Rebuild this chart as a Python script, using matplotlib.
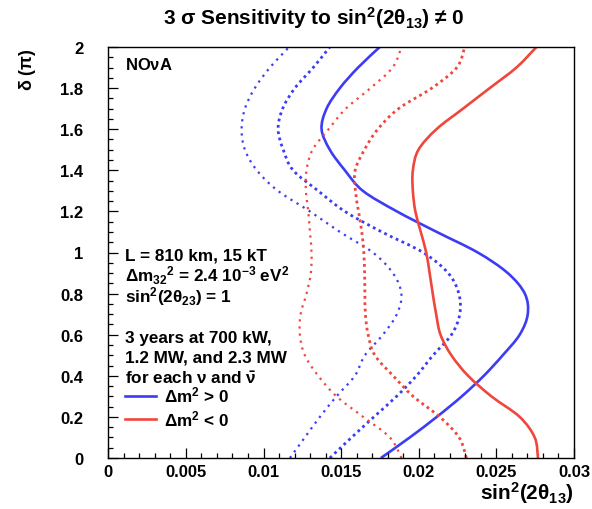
import matplotlib
matplotlib.use("Agg")
import matplotlib.pyplot as plt
import numpy as np
from matplotlib.ticker import MultipleLocator
from matplotlib.lines import Line2D
from matplotlib.path import Path
from matplotlib.patches import PathPatch

# ---- data ----
delta = [0.0, 0.1, 0.2, 0.3, 0.4, 0.5, 0.6, 0.7, 0.8, 0.9, 1.0,
         1.1, 1.2, 1.3, 1.4, 1.5, 1.6, 1.7, 1.8, 1.9, 2.0]

# normal hierarchy (dm2 > 0)
nh_700kw = [0.01756, 0.01942, 0.02116, 0.02277, 0.02419, 0.02541, 0.02650,
            0.02702, 0.02683, 0.02573, 0.02380, 0.02116, 0.01859, 0.01640,
            0.01524, 0.01427, 0.01374, 0.01406, 0.01492, 0.01609, 0.01749]
nh_1p2mw = [0.01427, 0.01567, 0.01711, 0.01857, 0.01985, 0.02092, 0.02211,
            0.02264, 0.02258, 0.02189, 0.02028, 0.01762, 0.01524, 0.01352,
            0.01191, 0.01127, 0.01094, 0.01123, 0.01202, 0.01320, 0.01427]
nh_2p3mw = [0.01170, 0.01266, 0.01363, 0.01470, 0.01588, 0.01653, 0.01769,
            0.01859, 0.01888, 0.01833, 0.01704, 0.01492, 0.01299, 0.01093,
            0.00957, 0.00880, 0.00859, 0.00880, 0.00944, 0.01041, 0.01165]

# inverted hierarchy (dm2 < 0)
ih_700kw = [0.02768, 0.02747, 0.02650, 0.02468, 0.02318, 0.02210, 0.02140,
            0.02112, 0.02090, 0.02070, 0.02048, 0.02013, 0.01978, 0.01962,
            0.01962, 0.01998, 0.02114, 0.02285, 0.02457, 0.02629, 0.02758]
ih_1p2mw = [0.02307, 0.02260, 0.02135, 0.01964, 0.01835, 0.01717, 0.01674,
            0.01656, 0.01653, 0.01651, 0.01646, 0.01633, 0.01612, 0.01592,
            0.01590, 0.01650, 0.01736, 0.01870, 0.02084, 0.02245, 0.02296]
ih_2p3mw = [0.01889, 0.01814, 0.01642, 0.01470, 0.01352, 0.01266, 0.01234,
            0.01239, 0.01277, 0.01305, 0.01309, 0.01299, 0.01288, 0.01273,
            0.01277, 0.01316, 0.01419, 0.01530, 0.01689, 0.01831, 0.01889]

x_ticks = [0, 0.005, 0.01, 0.015, 0.02, 0.025, 0.03]
x_tick_labels = ["0", "0.005", "0.01", "0.015", "0.02", "0.025", "0.03"]
y_ticks = [0, 0.2, 0.4, 0.6, 0.8, 1.0, 1.2, 1.4, 1.6, 1.8, 2.0]
y_tick_labels = ["0", "0.2", "0.4", "0.6", "0.8", "1", "1.2", "1.4", "1.6", "1.8", "2"]

BLUE = "#3c3cf5"
RED = "#f0463c"

# ---- style ----
plt.rcParams["font.family"] = ["Liberation Sans", "DejaVu Sans"]
plt.rcParams["font.weight"] = "bold"
plt.rcParams["mathtext.fontset"] = "custom"
plt.rcParams["mathtext.rm"] = "Liberation Sans:bold"
plt.rcParams["mathtext.it"] = "Liberation Sans:bold"
plt.rcParams["mathtext.bf"] = "Liberation Sans:bold"
plt.rcParams["mathtext.sf"] = "Liberation Sans:bold"

fig = plt.figure(figsize=(5.92, 5.10), dpi=100)
ax = fig.add_axes([108.3 / 592, 51 / 510, 465.7 / 592, 411 / 510])


def smooth_curve(ax, xs, ys, **kw):
    """Draw a smooth curve passing through every data point (Catmull-Rom as cubic Bezier)."""
    p = np.column_stack([xs, ys]).astype(float)
    ext = np.vstack([p[0], p, p[-1]])
    verts = [tuple(p[0])]
    codes = [Path.MOVETO]
    for i in range(len(p) - 1):
        p0, p1, p2, p3 = ext[i], ext[i + 1], ext[i + 2], ext[i + 3]
        c1 = p1 + (p2 - p0) / 6.0
        c2 = p2 - (p3 - p1) / 6.0
        verts += [tuple(c1), tuple(c2), tuple(p2)]
        codes += [Path.CURVE4] * 3
    patch = PathPatch(Path(verts, codes), fill=False, transform=ax.transData, **kw)
    ax.add_patch(patch)
    return patch


smooth_curve(ax, nh_700kw, delta, edgecolor=BLUE, lw=1.9)
smooth_curve(ax, nh_1p2mw, delta, edgecolor=BLUE, lw=2.0, linestyle=(0, (1, 1.3)))
smooth_curve(ax, nh_2p3mw, delta, edgecolor=BLUE, lw=1.6, linestyle=(0, (1, 2.2)))
smooth_curve(ax, ih_700kw, delta, edgecolor=RED, lw=1.9)
smooth_curve(ax, ih_1p2mw, delta, edgecolor=RED, lw=2.0, linestyle=(0, (1, 1.3)))
smooth_curve(ax, ih_2p3mw, delta, edgecolor=RED, lw=1.6, linestyle=(0, (1, 2.2)))

ax.set_xlim(0, 0.03)
ax.set_ylim(0, 2)
ax.set_xticks(x_ticks)
ax.set_xticklabels(x_tick_labels)
ax.set_yticks(y_ticks)
ax.set_yticklabels(y_tick_labels)
ax.xaxis.set_minor_locator(MultipleLocator(0.001))
ax.yaxis.set_minor_locator(MultipleLocator(0.05))
ax.tick_params(axis="both", which="both", direction="in", top=False, right=False,
               width=0.9, labelsize=12)
ax.tick_params(axis="both", which="major", length=7)
ax.tick_params(axis="both", which="minor", length=3.5)
ax.tick_params(axis="x", which="major", pad=4)
ax.tick_params(axis="y", which="major", pad=18)
for lab in ax.get_xticklabels() + ax.get_yticklabels():
    lab.set_fontweight("bold")
for s in ax.spines.values():
    s.set_linewidth(1.0)

# title and axis labels
fig.text(314 / 592, 1 - 25 / 510, r"3 $\sigma$ Sensitivity to sin$^{2}$(2$\theta_{13}$) ≠ 0",
         ha="center", va="baseline", fontsize=15, fontweight="bold")
fig.text(28 / 592, 1 - 48 / 510, r"$\delta$ ($\pi$)", rotation=90, ha="center", va="top",
         fontsize=13, fontweight="bold")
fig.text(574 / 592, 1 - 500 / 510, r"sin$^{2}$(2$\theta_{13}$)", ha="right", va="baseline",
         fontsize=15, fontweight="bold")

# annotations
tx = 0.036
ax.text(tx, 0.946, r"NO$\nu$A", transform=ax.transAxes, fontsize=12, fontweight="bold",
        va="baseline")
lines = [
    (0.482, r"L = 810 km, 15 kT"),
    (0.432, r"$\Delta$m$_{32}$$^{2}$ = 2.4 10$^{-3}$ eV$^{2}$"),
    (0.382, r"sin$^{2}$(2$\theta_{23}$) = 1"),
    (0.282, r"3 years at 700 kW,"),
    (0.234, r"1.2 MW, and 2.3 MW"),
    (0.182, r"for each $\nu$ and $\bar{\nu}$"),
]
for yy, s in lines:
    ax.text(tx, yy, s, transform=ax.transAxes, fontsize=12.3, fontweight="bold", va="baseline")

h_nh = Line2D([], [], color=BLUE, lw=1.9)
h_ih = Line2D([], [], color=RED, lw=1.9)
leg = ax.legend([h_nh, h_ih], [r"$\Delta$m$^{2}$ > 0", r"$\Delta$m$^{2}$ < 0"],
                loc="upper left", bbox_to_anchor=(tx, 0.178), frameon=False,
                fontsize=12.3, handlelength=1.8, handletextpad=0.45, labelspacing=0.2,
                borderpad=0, borderaxespad=0)
for t in leg.get_texts():
    t.set_fontweight("bold")

fig.savefig("out.png", dpi=100)
